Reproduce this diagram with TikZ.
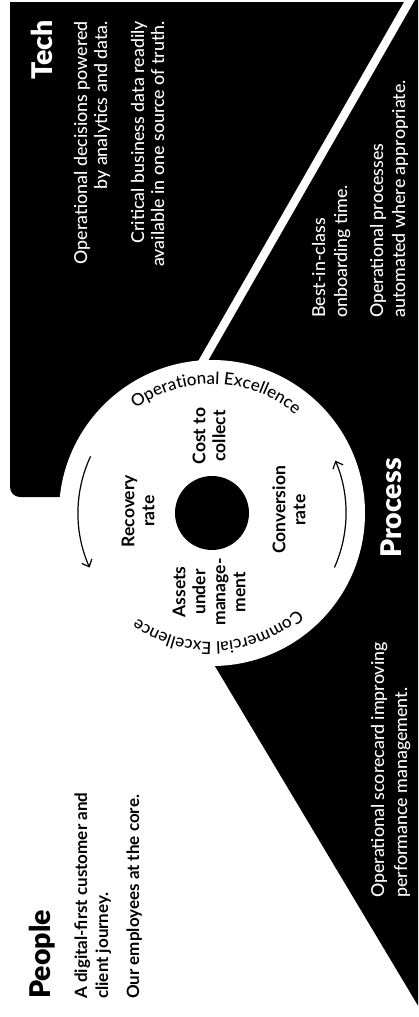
\documentclass[tikz,border=0pt]{standalone}
\usepackage{fontspec}
\setmainfont{Lato}
\newfontfamily\heavyfont{Lato Black}
\newfontfamily\medfont{Lato Medium}
\usetikzlibrary{arrows.meta,decorations.text}
\tikzset{
  wtxt/.style={text=white, font=\medfont\fontsize{17.8}{21}\selectfont, inner sep=0pt, rotate=90},
  ptxt/.style={text=black, font=\bfseries\fontsize{17}{21}\selectfont, inner sep=0pt, rotate=90},
  headtxt/.style={font=\heavyfont\fontsize{28.5}{30}\selectfont, inner sep=0pt, rotate=90},
  lbl/.style={text=black, font=\bfseries\fontsize{17.5}{20}\selectfont, align=center, inner sep=0pt, rotate=90},
  arr/.style={line width=1.2pt, -{Straight Barb[length=6pt,width=11pt]}},
}
\begin{document}
\begin{tikzpicture}[x=1pt,y=1pt]
\useasboundingbox (0,0) rectangle (418,-1017);
\clip (0,0) rectangle (418,-1017);
% Tech panel
\fill[black] (10,-2) -- (403.9,-2) -- (147,-450) -- (147,-497) -- (20,-497) arc (270:180:10) -- cycle;
% Process panel
\fill[black] (417.9,5) -- (157,-450) -- (151.5,-560) -- (426,-1019) -- (440,-1019) -- (440,5) -- cycle;
% ring
\node[circle, fill=white, minimum size=306pt, inner sep=0pt] (ring) at (212,-513) {};
\node[circle, fill=black, minimum size=74pt, inner sep=0pt] (hub) at (ring.center) {};
% ring texts
\path[decorate, decoration={text along path, text align=center,
  text={|\medfont\fontsize{17}{17}\selectfont|Operational Excellence}}]
  (ring.center) ++(178:129) arc (178:-2:129);
\path[decorate, decoration={text along path, text align=center,
  text={|\medfont\fontsize{17}{17}\selectfont|Commercial Excellence}}]
  (ring.center) ++(3:129) arc (3:-177:129);
% arrows
\draw[arr] (ring.center) ++(155:134) arc (155:204:134);
\draw[arr] (ring.center) ++(-24:134) arc (-24:23:134);
% ring labels
\node[lbl] (cost) at (209,-436) {Cost to\\collect};
\node[lbl] (recovery) at (138,-511) {Recovery\\rate};
\node[lbl] (conversion) at (289,-510) {Conversion\\rate};
\node[lbl] (assets) at (209,-592) {Assets\\under\\manage-\\ment};
% Tech
\node[headtxt, text=white, anchor=base east] (tech) at (52,-20) {Tech};
\node[wtxt, anchor=base east] (t1) at (87,-21) {Operational decisions powered};
\node[wtxt, anchor=base east] (t2) at (107,-21) {by analytics and data.};
\node[wtxt, anchor=base east] (t3) at (144,-21) {Critical business data readily};
\node[wtxt, anchor=base east] (t4) at (164,-21) {available in one source of truth.};
% Process
\node[headtxt, text=white, anchor=base west] (process) at (401,-558) {Process};
\node[wtxt, anchor=base west] (p1) at (325,-318) {Best-in-class};
\node[wtxt, anchor=base west] (p2) at (347,-318) {onboarding time.};
\node[wtxt, anchor=base west] (p3) at (383,-318) {Operational processes};
\node[wtxt, anchor=base west] (p4) at (405,-318) {automated where appropriate.};
\node[wtxt, anchor=base west] (s1) at (384,-898) {Operational scorecard improving};
\node[wtxt, anchor=base west] (s2) at (407,-898) {performance management.};
% People
\node[headtxt, text=black, anchor=base west] (people) at (50,-999) {People};
\node[ptxt, anchor=base west] (pe1) at (87,-999) {A digital-first customer and};
\node[ptxt, anchor=base west] (pe2) at (108,-999) {client journey.};
\node[ptxt, anchor=base west] (pe3) at (139,-999) {Our employees at the core.};
\end{tikzpicture}
\end{document}
